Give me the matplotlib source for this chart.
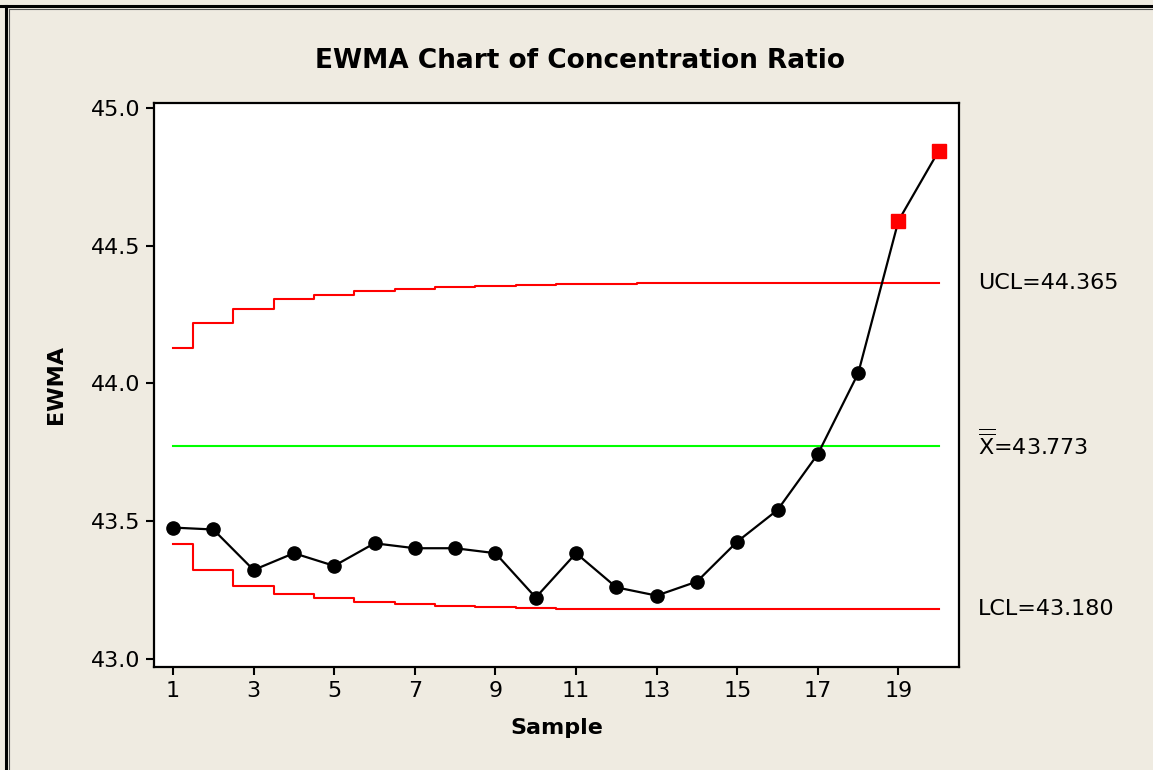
import matplotlib
matplotlib.use("Agg")
import matplotlib.pyplot as plt
from matplotlib.lines import Line2D

plt.rcParams['font.family'] = ['DejaVu Sans']
plt.rcParams['mathtext.fontset'] = 'dejavusans'

# data
samples = list(range(1, 21))
ewma = [43.477, 43.470, 43.323, 43.384, 43.338, 43.420, 43.402, 43.402, 43.384, 43.223,
        43.384, 43.260, 43.230, 43.281, 43.426, 43.541, 43.744, 44.037, 44.591, 44.845]
ucl = [44.128, 44.221, 44.270, 44.307, 44.322, 44.336, 44.344, 44.350, 44.354, 44.357,
       44.361, 44.362, 44.363, 44.364, 44.364, 44.365, 44.365, 44.365, 44.365, 44.365]
lcl = [43.417, 43.323, 43.266, 43.236, 43.222, 43.207, 43.199, 43.192, 43.189, 43.186,
       43.183, 43.182, 43.182, 43.181, 43.181, 43.180, 43.180, 43.180, 43.180, 43.180]
center = 43.773
ucl_final = 44.365
lcl_final = 43.180
xticks = [1, 3, 5, 7, 9, 11, 13, 15, 17, 19]
yticks = [43.0, 43.5, 44.0, 44.5, 45.0]

bg = '#efebe1'
fig = plt.figure(figsize=(11.53, 7.70), dpi=100, facecolor=bg)
ax = fig.add_axes([0.1336, 0.1338, 0.6981, 0.7324])
ax.set_facecolor('white')

# control limits (step lines) and center line
ax.plot(samples, ucl, color='#ff0000', lw=1.5, drawstyle='steps-mid')
ax.plot(samples, lcl, color='#ff0000', lw=1.5, drawstyle='steps-mid')
ax.plot([samples[0], samples[-1]], [center, center], color='#00ff00', lw=1.5)

# EWMA line and points
ax.plot(samples, ewma, color='black', lw=1.6, zorder=3)
inx = [s for s, v, u, l in zip(samples, ewma, ucl, lcl) if l <= v <= u]
iny = [v for s, v, u, l in zip(samples, ewma, ucl, lcl) if l <= v <= u]
outx = [s for s, v, u, l in zip(samples, ewma, ucl, lcl) if not (l <= v <= u)]
outy = [v for s, v, u, l in zip(samples, ewma, ucl, lcl) if not (l <= v <= u)]
ax.plot(inx, iny, 'o', color='black', ms=9.5, zorder=4)
ax.plot(outx, outy, 's', color='#ff0000', ms=10, zorder=4)

ax.set_xlim(0.53, 20.5)
ax.set_ylim(42.971, 45.018)
ax.set_xticks(xticks)
ax.set_xticklabels([str(t) for t in xticks])
ax.set_yticks(yticks)
ax.set_yticklabels(['%.1f' % t for t in yticks])
ax.tick_params(axis='both', direction='out', length=6, width=1.5, labelsize=16, pad=4)
for sp in ax.spines.values():
    sp.set_linewidth(1.6)

ax.set_xlabel('Sample', fontsize=16, fontweight='bold', labelpad=12)
ax.set_ylabel('EWMA', fontsize=16, fontweight='bold', labelpad=18)

# limit labels on the right
lab_x = 20.97
ax.text(lab_x, ucl_final, 'UCL=%.3f' % ucl_final, fontsize=16, va='center', ha='left', clip_on=False)
ax.text(lab_x, center + 0.008, r'$\overline{\overline{\mathrm{X}}}$=%.3f' % center, fontsize=16,
        va='center', ha='left', clip_on=False)
ax.text(lab_x, lcl_final, 'LCL=%.3f' % lcl_final, fontsize=16, va='center', ha='left', clip_on=False)

fig.text(0.503, 0.921, 'EWMA Chart of Concentration Ratio', fontsize=19, fontweight='bold',
         ha='center', va='center')

# window frame on top and left
fig.add_artist(Line2D([0, 1], [1 - 5.5 / 770, 1 - 5.5 / 770], color='black', lw=2.2))
fig.add_artist(Line2D([5.5 / 1153, 5.5 / 1153], [0, 1 - 5.5 / 770], color='black', lw=2.2))
fig.add_artist(Line2D([8.5 / 1153, 8.5 / 1153], [0, 1 - 8.5 / 770], color='#555555', lw=0.8))
fig.add_artist(Line2D([8.5 / 1153, 1], [1 - 8.5 / 770, 1 - 8.5 / 770], color='#555555', lw=0.8))

plt.savefig('out.png', dpi=100, facecolor=bg)
